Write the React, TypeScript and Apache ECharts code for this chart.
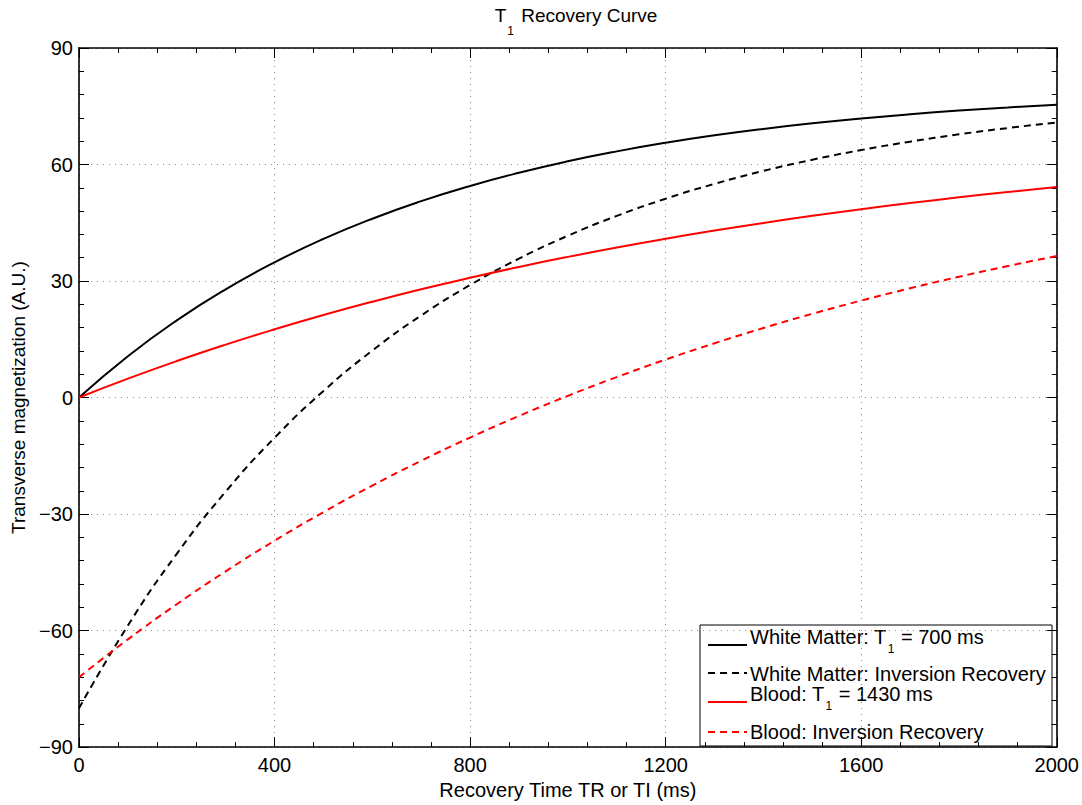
import React, { useEffect, useRef } from "react";
import * as echarts from "echarts";

const recoveryTimes = [0, 100, 200, 300, 400, 500, 600, 700, 800, 900, 1000, 1100, 1200, 1300, 1400, 1500, 1600, 1700, 1800, 1900, 2000];
const whiteMatter = [0, 10.65, 19.88, 27.88, 34.82, 40.84, 46.05, 50.57, 54.49, 57.88, 60.83, 63.38, 65.59, 67.51, 69.17, 70.61, 71.86, 72.95, 73.89, 74.7, 75.41];
const whiteMatterIR = [-80, -58.7, -40.24, -24.23, -10.36, 1.67, 12.1, 21.14, 28.98, 35.77, 41.66, 46.76, 51.19, 55.02, 58.35, 61.23, 63.73, 65.89, 67.77, 69.4, 70.81];
const blood = [0, 4.86, 9.4, 13.63, 17.57, 21.25, 24.67, 27.87, 30.85, 33.63, 36.22, 38.64, 40.89, 42.99, 44.95, 46.78, 48.48, 50.07, 51.55, 52.93, 54.22];
const bloodIR = [-72, -62.27, -53.21, -44.75, -36.86, -29.51, -22.66, -16.26, -10.3, -4.74, 0.44, 5.27, 9.78, 13.98, 17.9, 21.56, 24.96, 28.14, 31.1, 33.86, 36.44];

const xTickInterval = 400;
const yTickInterval = 30;

const seriesNames = [
  "White Matter: T1 = 700 ms",
  "White Matter: Inversion Recovery",
  "Blood: T1 = 1430 ms",
  "Blood: Inversion Recovery",
];
const legendRich = [
  "{a|White Matter: T}{s|1}{a| = 700 ms}",
  "{a|White Matter: Inversion Recovery}",
  "{a|Blood: T}{s|1}{a| = 1430 ms}",
  "{a|Blood: Inversion Recovery}",
];
const seriesColors = ["#000000", "#000000", "#ff0000", "#ff0000"];
const seriesDashed = [false, true, false, true];

const FONT = "Liberation Sans, Arial, Helvetica, sans-serif";
const DASH = [7, 5];
const W = 1082;
const H = 805;

function pairs(ys: number[]) {
  return recoveryTimes.map((t, i) => [t, ys[i]]);
}

export default function App() {
  const ref = useRef<HTMLDivElement>(null);
  useEffect(() => {
    if (!ref.current) return;
    document.body.style.margin = "0";
    const chart = echarts.init(ref.current, undefined, { renderer: "svg", width: W, height: H });
    const tickStyle = { show: true, inside: true, length: 10, lineStyle: { color: "#000", width: 1 } };
    const minorTick = { show: true, splitNumber: 5, length: 5, lineStyle: { color: "#000", width: 1 } };
    const axisLine = { show: true, onZero: false, lineStyle: { color: "#000", width: 1.6 } };
    const splitLine = { show: true, lineStyle: { color: "#8c8c8c", width: 1, type: [1, 5] } };
    const fmt = (v: number) => String(v).replace("-", "\u2212");
    const mkLine = (i: number, ys: number[]) => ({
      name: seriesNames[i],
      type: "line",
      data: pairs(ys),
      smooth: 0.5,
      symbol: "none",
      showSymbol: false,
      lineStyle: { color: seriesColors[i], width: 2, type: seriesDashed[i] ? DASH : "solid" },
      itemStyle: { color: seriesColors[i] },
      z: 3,
    });
    const rich = {
      a: { fontSize: 20, fontFamily: FONT, color: "#000", verticalAlign: "top", lineHeight: 22 },
      s: { fontSize: 12, fontFamily: FONT, color: "#000", padding: [16, 1, 0, 1] },
    };
    // legend drawn as graphic
    const lx = 700, ly = 625, lw = 352, lh = 121;
    const lineYs = [645, 673, 702, 732];
    const textYs = [641, 674.5, 697.5, 732.5];
    const legendEls: any[] = [
      {
        type: "rect",
        shape: { x: lx, y: ly, width: lw, height: lh },
        style: { fill: "#fff", stroke: "#000", lineWidth: 1 },
      },
    ];
    for (let i = 0; i < 4; i++) {
      legendEls.push({
        type: "line",
        shape: { x1: 708, y1: lineYs[i], x2: 747, y2: lineYs[i] },
        style: { stroke: seriesColors[i], lineWidth: 2, lineDash: seriesDashed[i] ? DASH : null },
      });
      legendEls.push({
        type: "text",
        x: 750,
        y: textYs[i],
        style: {
          text: legendRich[i],
          rich,
          align: "left",
          verticalAlign: "middle",
          fontSize: 20,
          fontFamily: FONT,
          fill: "#000",
        },
      });
    }
    chart.setOption({
      animation: false,
      backgroundColor: "#fff",
      title: {
        text: "{a|T}{s|1}{a| Recovery Curve}",
        left: 571,
        textAlign: "center",
        top: 1,
        textStyle: {
          fontWeight: "normal",
          color: "#000",
          rich: {
            a: { fontSize: 19, fontWeight: "normal", fontFamily: FONT, color: "#000", verticalAlign: "top", lineHeight: 22 },
            s: { fontSize: 12, fontWeight: "normal", fontFamily: FONT, color: "#000", padding: [19, 2, 0, 1] },
          },
        },
      },
      grid: { left: 79, right: 25, top: 48, bottom: 53, containLabel: false },
      xAxis: [
        {
          type: "value",
          min: 0,
          max: 2000,
          interval: xTickInterval,
          position: "bottom",
          name: "Recovery Time TR or TI (ms)",
          nameLocation: "middle",
          nameGap: 25,
          nameTextStyle: { fontSize: 20, fontFamily: FONT, color: "#000" },
          axisLine,
          axisTick: tickStyle,
          minorTick,
          splitLine,
          axisLabel: { fontSize: 20, fontFamily: FONT, color: "#000", margin: 8, formatter: fmt },
        },
        {
          type: "value",
          min: 0,
          max: 2000,
          interval: xTickInterval,
          position: "top",
          axisLine,
          axisTick: tickStyle,
          minorTick,
          splitLine: { show: false },
          axisLabel: { show: false },
        },
      ],
      yAxis: [
        {
          type: "value",
          min: -90,
          max: 90,
          interval: yTickInterval,
          position: "left",
          name: "Transverse magnetization (A.U.)",
          nameLocation: "middle",
          nameGap: 41,
          nameTextStyle: { fontSize: 19, fontFamily: FONT, color: "#000" },
          axisLine,
          axisTick: tickStyle,
          minorTick,
          splitLine,
          axisLabel: { fontSize: 20, fontFamily: FONT, color: "#000", margin: 6, formatter: fmt },
        },
        {
          type: "value",
          min: -90,
          max: 90,
          interval: yTickInterval,
          position: "right",
          axisLine,
          axisTick: tickStyle,
          minorTick,
          splitLine: { show: false },
          axisLabel: { show: false },
        },
      ],
      graphic: [{ type: "group", z: 100, children: legendEls }],
      series: [
        mkLine(0, whiteMatter),
        mkLine(1, whiteMatterIR),
        mkLine(2, blood),
        mkLine(3, bloodIR),
      ],
    });
    return () => chart.dispose();
  }, []);
  return (
    <div
      ref={ref}
      style={{ position: "absolute", left: 0, top: 0, width: W, height: H, background: "#fff" }}
    />
  );
}
